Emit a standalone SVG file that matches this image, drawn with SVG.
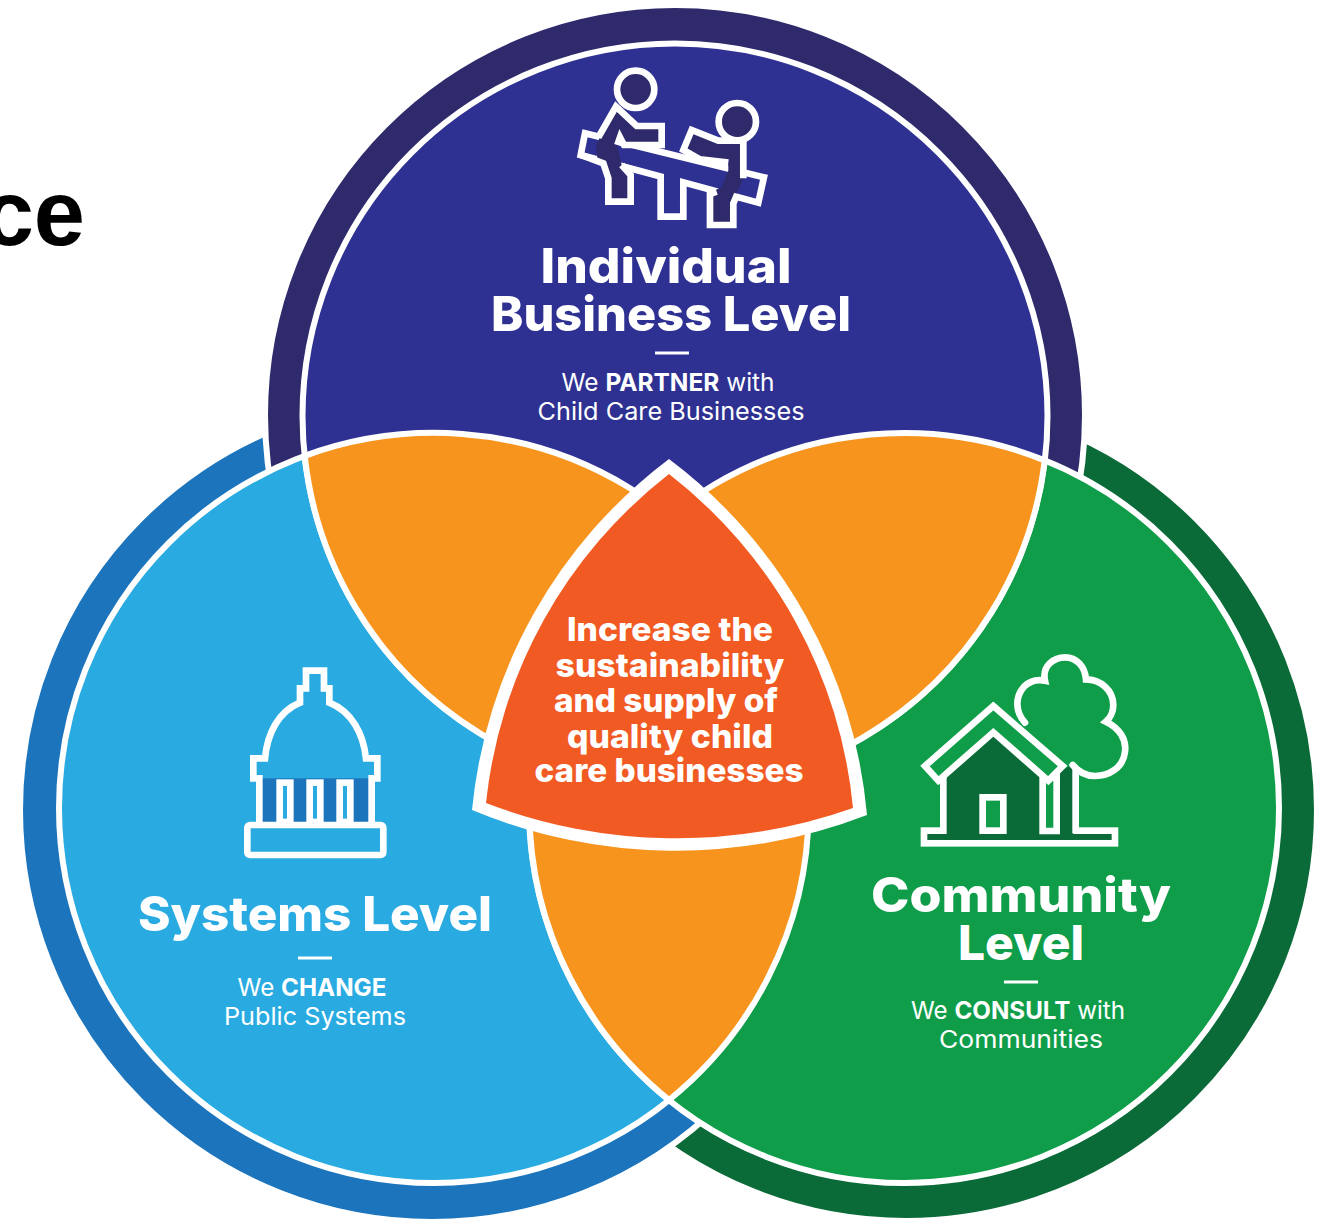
<svg xmlns="http://www.w3.org/2000/svg" width="1320" height="1219" viewBox="0 0 1320 1219">
<style>
text{font-family:Inter,"Noto Sans","Liberation Sans",sans-serif;fill:#fff;text-anchor:middle}
.h{font-weight:800;font-size:48px}
.s{font-size:24.5px;font-weight:400}
.s tspan{font-weight:700}
.c{font-weight:800;font-size:33px}
.ring{stroke:#fff;stroke-width:6}
.disc{stroke:#fff;stroke-width:6}
.lens{fill:#f7941e;stroke:#fff;stroke-width:6}
.ic{stroke:#fff;stroke-width:20;stroke-linejoin:miter}
.dash{stroke:#fff;stroke-width:3}
</style>
<rect width="1320" height="1219" fill="#fff"/>
<text x="85" y="245" style="text-anchor:end;fill:#000;font-family:'Liberation Sans',sans-serif;font-weight:700;font-size:92px">ce</text>
<g id="rings">
<circle cx="906" cy="810" r="411" fill="#0b6b38" class="ring"/>
<circle cx="432" cy="810" r="412" fill="#1c75bc" class="ring"/>
<circle cx="675" cy="415" r="410" fill="#2e2a6b" class="ring"/>
</g>
<g id="discs">
<circle cx="434" cy="808" r="375" fill="#29abe2" class="disc"/>
<circle cx="904" cy="808" r="375" fill="#0f9d4a" class="disc"/>
<circle cx="675" cy="416" r="372.5" fill="#2e3192" class="disc"/>
</g>
<g id="overlaps">
<path class="lens" d="M304.7 455.9A375 375 0 0 1 806.5 764.5A372.5 372.5 0 0 1 304.7 455.9Z"/>
<path class="lens" d="M1044.7 460.4A375 375 0 0 0 532.1 760A372.5 372.5 0 0 0 1044.7 460.4Z"/>
<path class="lens" d="M669 516A375 375 0 0 1 669 1100A375 375 0 0 1 669 516Z"/>
</g>
<g id="center">
<path fill="#fff" d="M669 459A500 500 0 0 0 472 810A530 530 0 0 0 867 815A500 500 0 0 0 669 459Z"/>
<path fill="#f15a22" d="M669 474A480 480 0 0 0 486 803A530 530 0 0 0 853 808A480 480 0 0 0 669 474Z"/>
<text class="c" x="670" y="641" textLength="206" lengthAdjust="spacingAndGlyphs">Increase the</text>
<text class="c" x="670" y="677" textLength="229" lengthAdjust="spacingAndGlyphs">sustainability</text>
<text class="c" x="666" y="712" textLength="224" lengthAdjust="spacingAndGlyphs">and supply of</text>
<text class="c" x="670" y="748" textLength="206" lengthAdjust="spacingAndGlyphs">quality child</text>
<text class="c" x="669" y="782" textLength="269" lengthAdjust="spacingAndGlyphs">care businesses</text>
</g>
<g id="individual">
<g transform="translate(540 50) scale(.3333)">
<path class="ic" fill="#2e3192" d="M135 250L672 382L655 458L430 397V500H362V380L122 315Z"/>
<path fill="#2e2a6b" d="M228 170L290 228H365V285H252L240 262L232 288L245 345L272 375V455H205V385L190 340L172 325L168 285Z"/>
<path class="ic" fill="none" d="M175 262L228 170L290 228H365V285H252L240 262L232 285"/>
<path class="ic" fill="none" d="M122 315L190 340L205 385V455H272V375L245 345"/>
<path fill="#2e2a6b" d="M455 240L535 272H610V385L590 430L580 460V525H510V430L545 410L565 362V335L480 325L430 300Z"/>
<path class="ic" fill="none" d="M565 338L480 328L430 300L455 240L535 272H610V385"/>
<path class="ic" fill="none" d="M530 425L510 432V525H580V460L592 432"/>
<circle class="ic" fill="#2e2a6b" cx="287" cy="118" r="56"/>
<circle class="ic" fill="#2e2a6b" cx="592" cy="215" r="56"/>
</g>
<text class="h" x="666" y="283" textLength="251" lengthAdjust="spacingAndGlyphs">Individual</text>
<text class="h" x="671" y="331" textLength="360" lengthAdjust="spacingAndGlyphs">Business Level</text>
<line class="dash" x1="655" y1="353" x2="689" y2="353"/>
<text class="s" x="668" y="391" textLength="213" lengthAdjust="spacingAndGlyphs">We <tspan>PARTNER</tspan> with</text>
<text class="s" x="671" y="420" textLength="267" lengthAdjust="spacingAndGlyphs">Child Care Businesses</text>
</g>
<g id="systems">
<g transform="translate(220 650) scale(.3333)">
<rect x="118" y="385" width="335" height="140" fill="#1c75bc"/>
<path class="ic" fill="none" stroke-linejoin="round" d="M118 525V385H100V325H135C142 250 175 185 240 158V115H258V62H312V115H328V158C395 185 430 250 438 325H472V385H455V525"/>
<rect class="ic" fill="#29abe2" x="179" y="398" width="32" height="118"/>
<rect class="ic" fill="#29abe2" x="269" y="398" width="32" height="118"/>
<rect class="ic" fill="#29abe2" x="359" y="398" width="32" height="118"/>
<rect class="ic" fill="#29abe2" x="82" y="525" width="408" height="90" rx="8"/>
</g>
<text class="h" x="315" y="931" textLength="354" lengthAdjust="spacingAndGlyphs">Systems Level</text>
<line class="dash" x1="298" y1="958" x2="332" y2="958"/>
<text class="s" x="312" y="996" textLength="149" lengthAdjust="spacingAndGlyphs">We <tspan>CHANGE</tspan></text>
<text class="s" x="315" y="1025" textLength="182" lengthAdjust="spacingAndGlyphs">Public Systems</text>
</g>
<g id="community">
<g transform="translate(900 640) scale(.3333)">
<rect class="ic" fill="#0b6b38" x="72" y="572" width="573" height="38"/>
<path fill="#0b6b38" d="M130 410L280 280L430 410V600H130Z"/>
<path fill="#0b6b38" d="M470 400L520 372V600H470Z"/>
<path class="ic" fill="none" stroke-linecap="round" d="M375 248C345 215 345 170 372 140C390 122 415 118 435 122C425 75 465 52 495 52C530 52 555 80 558 118C600 118 640 150 640 195C640 215 630 235 618 245C660 265 680 300 675 335C670 385 625 408 585 408C560 408 535 395 518 375"/>
<path class="ic" fill="none" d="M527 385V580"/>
<path class="ic" fill="none" d="M130 410V582"/>
<path class="ic" fill="#0f9d4a" d="M428 420V573H470V410Z"/>
<path class="ic" fill="#0f9d4a" d="M75 378L280 198L488 378L445 422L280 277L115 422Z"/>
<rect class="ic" fill="#0f9d4a" x="248" y="472" width="62" height="100"/>
</g>
<text class="h" x="1021" y="912" textLength="300" lengthAdjust="spacingAndGlyphs">Community</text>
<text class="h" x="1021" y="960" textLength="126" lengthAdjust="spacingAndGlyphs">Level</text>
<line class="dash" x1="1004" y1="982" x2="1038" y2="982"/>
<text class="s" x="1018" y="1019" textLength="214" lengthAdjust="spacingAndGlyphs">We <tspan>CONSULT</tspan> with</text>
<text class="s" x="1021" y="1048" textLength="164" lengthAdjust="spacingAndGlyphs">Communities</text>
</g>
</svg>
